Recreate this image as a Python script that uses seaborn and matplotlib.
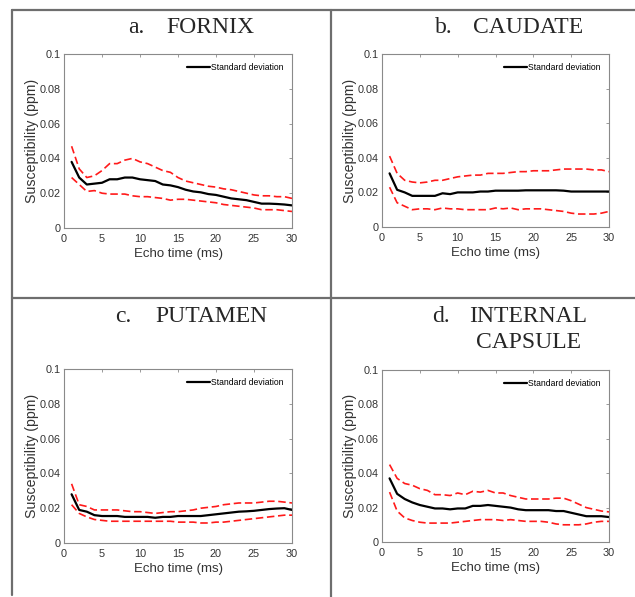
import numpy as np
import pandas as pd
import matplotlib
matplotlib.use("Agg")
import matplotlib.pyplot as plt
import seaborn as sns
from matplotlib.lines import Line2D

echo = list(range(1, 31))

fornix_mean = [0.038, 0.029, 0.025, 0.0255, 0.026, 0.028, 0.028, 0.029, 0.029, 0.028,
               0.0275, 0.027, 0.025, 0.0245, 0.0235, 0.022, 0.021, 0.0205, 0.0195, 0.019,
               0.018, 0.017, 0.0165, 0.016, 0.015, 0.014, 0.014, 0.0138, 0.0135, 0.013]
fornix_upper = [0.047, 0.034, 0.029, 0.030, 0.033, 0.037, 0.037, 0.039, 0.040, 0.038,
                0.037, 0.035, 0.033, 0.032, 0.029, 0.027, 0.026, 0.025, 0.024, 0.0235,
                0.0225, 0.022, 0.021, 0.020, 0.019, 0.0185, 0.0185, 0.018, 0.018, 0.017]
fornix_lower = [0.029, 0.025, 0.021, 0.0215, 0.020, 0.0195, 0.0195, 0.0195, 0.0185, 0.018,
                0.018, 0.0175, 0.017, 0.016, 0.0165, 0.0165, 0.016, 0.0155, 0.015, 0.0145,
                0.0135, 0.013, 0.0125, 0.012, 0.0115, 0.0105, 0.0105, 0.0105, 0.010, 0.0095]

caudate_mean = [0.031, 0.0215, 0.020, 0.018, 0.018, 0.018, 0.018, 0.0195, 0.019, 0.020,
                0.020, 0.020, 0.0205, 0.0205, 0.021, 0.021, 0.021, 0.021, 0.0212, 0.0212,
                0.0212, 0.0212, 0.0212, 0.021, 0.0205, 0.0205, 0.0205, 0.0205, 0.0205, 0.0205]
caudate_upper = [0.041, 0.031, 0.027, 0.026, 0.0255, 0.026, 0.027, 0.027, 0.028, 0.029,
                 0.0295, 0.030, 0.030, 0.031, 0.031, 0.031, 0.0315, 0.032, 0.032, 0.0325,
                 0.0325, 0.0325, 0.033, 0.0335, 0.0335, 0.0335, 0.0335, 0.033, 0.033, 0.032]
caudate_lower = [0.023, 0.014, 0.012, 0.010, 0.0105, 0.0105, 0.010, 0.011, 0.0105, 0.0105,
                 0.010, 0.010, 0.010, 0.010, 0.011, 0.0105, 0.011, 0.010, 0.0105, 0.0105,
                 0.0105, 0.010, 0.0095, 0.009, 0.008, 0.0075, 0.0075, 0.0075, 0.008, 0.009]

putamen_mean = [0.028, 0.019, 0.018, 0.016, 0.0155, 0.0155, 0.0155, 0.015, 0.015, 0.015,
                0.015, 0.0145, 0.015, 0.015, 0.0155, 0.0155, 0.0155, 0.0155, 0.016, 0.0165,
                0.017, 0.0175, 0.018, 0.0182, 0.0185, 0.019, 0.0195, 0.0198, 0.020, 0.019]
putamen_upper = [0.034, 0.022, 0.021, 0.019, 0.019, 0.019, 0.019, 0.0185, 0.018, 0.018,
                 0.0175, 0.017, 0.0175, 0.018, 0.018, 0.0185, 0.019, 0.020, 0.0205, 0.021,
                 0.022, 0.0225, 0.023, 0.023, 0.023, 0.0235, 0.024, 0.024, 0.0235, 0.023]
putamen_lower = [0.022, 0.017, 0.015, 0.0135, 0.013, 0.0125, 0.0125, 0.0125, 0.0125, 0.0125,
                 0.0125, 0.0125, 0.0125, 0.0125, 0.012, 0.012, 0.012, 0.0115, 0.0115, 0.012,
                 0.012, 0.0125, 0.013, 0.0135, 0.014, 0.0145, 0.015, 0.0155, 0.016, 0.016]

capsule_mean = [0.037, 0.028, 0.025, 0.023, 0.0215, 0.0205, 0.0195, 0.0195, 0.019, 0.0195,
                0.0195, 0.021, 0.021, 0.0215, 0.021, 0.0205, 0.020, 0.019, 0.0185, 0.0185,
                0.0185, 0.0185, 0.018, 0.018, 0.017, 0.016, 0.015, 0.015, 0.015, 0.0145]
capsule_upper = [0.045, 0.037, 0.034, 0.033, 0.031, 0.030, 0.0275, 0.0275, 0.027, 0.0285,
                 0.0275, 0.0295, 0.029, 0.030, 0.0285, 0.0285, 0.027, 0.026, 0.025, 0.025,
                 0.025, 0.025, 0.0255, 0.0255, 0.024, 0.022, 0.020, 0.019, 0.018, 0.0175]
capsule_lower = [0.029, 0.018, 0.014, 0.0125, 0.0115, 0.011, 0.011, 0.011, 0.011, 0.0115,
                 0.012, 0.0125, 0.013, 0.013, 0.013, 0.0125, 0.013, 0.0125, 0.012, 0.012,
                 0.012, 0.0115, 0.0105, 0.010, 0.010, 0.010, 0.0105, 0.0115, 0.012, 0.012]

panel_letters = ["a.", "b.", "c.", "d."]
panel_names = [["FORNIX"], ["CAUDATE"], ["PUTAMEN"], ["INTERNAL", "CAPSULE"]]
panel_data = [
    (fornix_mean, fornix_upper, fornix_lower),
    (caudate_mean, caudate_upper, caudate_lower),
    (putamen_mean, putamen_upper, putamen_lower),
    (capsule_mean, capsule_upper, capsule_lower),
]
xticks = [0, 5, 10, 15, 20, 25, 30]
yticks = [0, 0.02, 0.04, 0.06, 0.08, 0.1]
ytick_labels = ["0", "0.02", "0.04", "0.06", "0.08", "0.1"]
legend_label = "Standard deviation"
xlabel = "Echo time (ms)"
ylabel = "Susceptibility (ppm)"

sns.set_style("white")
plt.rcParams["font.family"] = ["Liberation Sans", "DejaVu Sans"]

W, H = 635, 597
fig = plt.figure(figsize=(W / 100, H / 100), dpi=100)

def rect(l, t, r, b):
    return [l / W, 1 - b / H, (r - l) / W, (b - t) / H]

axes_px = [(64, 54, 292, 228), (382, 54, 609, 227), (64, 369, 292, 543), (382, 370, 609, 542)]
letter_x = [128, 435, 115, 432]
name_x = [210, 528, 211, 528.5]
baseline_y = [33, 33, 322, 322]

spine_col = "#8a8a8a"
text_col = "#333333"

for i, (l, t, r, b) in enumerate(axes_px):
    ax = fig.add_axes(rect(l, t, r, b))
    mean, upper, lower = panel_data[i]
    df = pd.DataFrame({"echo": echo, "mean": mean, "upper": upper, "lower": lower})
    sns.lineplot(data=df, x="echo", y="upper", ax=ax, color="#ff1a1a", lw=1.2,
                 linestyle=(0, (4.5, 2.2)), errorbar=None, legend=False)
    sns.lineplot(data=df, x="echo", y="lower", ax=ax, color="#ff1a1a", lw=1.2,
                 linestyle=(0, (4.5, 2.2)), errorbar=None, legend=False)
    sns.lineplot(data=df, x="echo", y="mean", ax=ax, color="black", lw=1.6,
                 errorbar=None, label=legend_label)
    ax.set_xlim(0, 30)
    ax.set_ylim(0, 0.1)
    ax.set_xticks(xticks)
    ax.set_xticklabels([str(v) for v in xticks])
    ax.set_yticks(yticks)
    ax.set_yticklabels(ytick_labels)
    ax.tick_params(direction="in", top=True, right=True, length=2.5, width=0.6,
                   color=spine_col, labelcolor=text_col, labelsize=7.8, pad=2.5)
    ax.tick_params(axis="x", pad=4)
    for s in ax.spines.values():
        s.set_color(spine_col)
        s.set_linewidth(0.8)
    ax.set_xlabel(xlabel, fontsize=9.5, color=text_col, labelpad=3)
    ax.set_ylabel(ylabel, fontsize=10.2, color=text_col, labelpad=0.5)
    ax.legend(loc="center right", bbox_to_anchor=(0.962, 0.92), frameon=False,
              fontsize=6.2, handlelength=2.7, handletextpad=0.1,
              borderaxespad=0, borderpad=0, labelcolor="black")
    fig.text(letter_x[i] / W, 1 - baseline_y[i] / H, panel_letters[i],
             fontsize=17, family="Liberation Serif", ha="left", va="baseline")
    for k, name in enumerate(panel_names[i]):
        fig.text(name_x[i] / W, 1 - (baseline_y[i] + 26 * k) / H, name,
                 fontsize=17, family="Liberation Serif", ha="center", va="baseline")

line_col = "#6e6e6e"
lw = 1.6
def hline(y, x0, x1):
    fig.add_artist(Line2D([x0 / W, x1 / W], [1 - y / H, 1 - y / H],
                          transform=fig.transFigure, color=line_col, lw=lw))
def vline(x, y0, y1):
    fig.add_artist(Line2D([x / W, x / W], [1 - y0 / H, 1 - y1 / H],
                          transform=fig.transFigure, color=line_col, lw=lw))

hline(10, 12, 635)
hline(298, 12, 635)
vline(12, 10, 595)
vline(331, 10, 597)

fig.savefig("out.png", dpi=100)
